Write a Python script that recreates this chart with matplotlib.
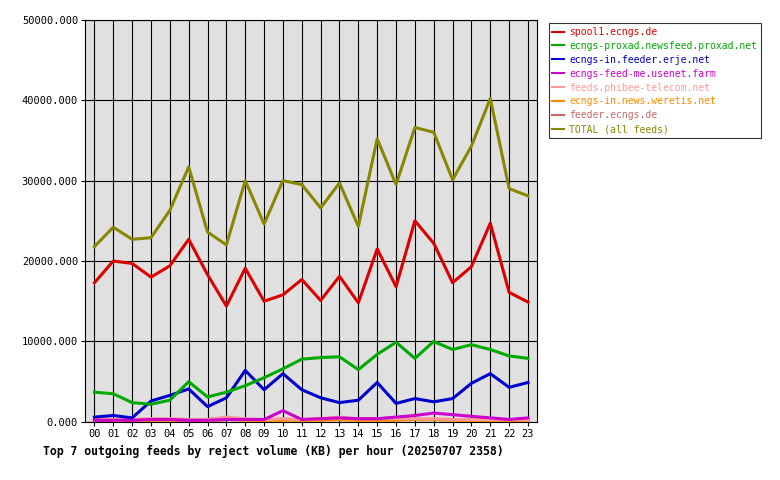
import matplotlib
matplotlib.use("Agg")
import matplotlib.pyplot as plt

hours = ["%02d" % h for h in range(24)]

spool1 = [17300, 20000, 19700, 18000, 19400, 22700, 18300, 14400, 19100, 15000, 15800, 17700,
          15100, 18100, 14800, 21500, 16800, 25000, 22200, 17300, 19300, 24700, 16100, 14900]
proxad = [3700, 3500, 2400, 2200, 2700, 5000, 3100, 3700, 4500, 5500, 6600, 7800,
          8000, 8100, 6500, 8400, 9900, 7900, 10000, 9000, 9600, 9000, 8200, 7900]
erje = [600, 800, 500, 2600, 3300, 4100, 1900, 3000, 6400, 4000, 6000, 4000,
        3000, 2400, 2700, 4900, 2300, 2900, 2500, 2900, 4800, 6000, 4300, 4900]
usenet_farm = [200, 200, 200, 300, 300, 200, 200, 300, 300, 300, 1400, 300,
               400, 500, 400, 400, 600, 800, 1100, 900, 700, 500, 300, 500]
phibee = [300, 300, 300, 400, 400, 300, 300, 600, 400, 300, 400, 300,
          400, 600, 400, 400, 400, 400, 400, 300, 300, 300, 300, 300]
weretis = [100, 100, 100, 200, 200, 100, 100, 300, 200, 100, 200, 200,
           200, 300, 200, 200, 200, 300, 300, 200, 200, 200, 200, 200]
feeder = [200, 200, 200, 300, 300, 200, 300, 500, 300, 200, 300, 300,
          300, 500, 300, 300, 300, 300, 300, 300, 200, 200, 200, 200]
total = [21800, 24200, 22700, 22900, 26300, 31700, 23600, 22000, 30000, 24600, 30000, 29500,
         26600, 29700, 24300, 35200, 29500, 36600, 36000, 30100, 34300, 40200, 29000, 28100]

series = [
    ("spool1.ecngs.de", spool1, "#dd0000"),
    ("ecngs-proxad.newsfeed.proxad.net", proxad, "#00aa00"),
    ("ecngs-in.feeder.erje.net", erje, "#0000cc"),
    ("ecngs-feed-me.usenet.farm", usenet_farm, "#cc00cc"),
    ("feeds.phibee-telecom.net", phibee, "#ff9999"),
    ("ecngs-in.news.weretis.net", weretis, "#ff8800"),
    ("feeder.ecngs.de", feeder, "#cc6666"),
    ("TOTAL (all feeds)", total, "#888800"),
]

plt.rcParams["font.family"] = "DejaVu Sans Mono"
fig = plt.figure(figsize=(7.8, 4.8), dpi=100)
ax = fig.add_axes([0.109, 0.121, 0.58, 0.838])
ax.set_facecolor("#e0e0e0")
x = list(range(24))
for name, vals, col in series[::-1]:
    ax.plot(x, vals, color=col, lw=2.2, label=name, zorder=3)
ax.set_xlim(-0.5, 23.5)
ax.set_ylim(0, 50000)
ax.set_xticks(x)
ax.set_xticklabels(hours, fontsize=7.5)
ax.set_yticks(range(0, 50001, 10000))
ax.set_yticklabels(["%d.000" % v for v in range(0, 50001, 10000)], fontsize=7.5)
ax.grid(True, color="black", lw=0.8, zorder=1)
ax.tick_params(length=3, pad=2)
handles, labels = ax.get_legend_handles_labels()
leg = fig.legend(handles[::-1], labels[::-1], loc="upper left", bbox_to_anchor=(0.697, 0.962),
                 fontsize=7, frameon=True, fancybox=False, edgecolor="black",
                 handlelength=1.2, borderpad=0.4, labelspacing=0.4, handletextpad=0.5)
leg.get_frame().set_linewidth(0.8)
for t, (_, _, col) in zip(leg.get_texts(), series):
    t.set_color(col)
for h in leg.get_lines():
    h.set_linewidth(1.5)
fig.text(0.055, 0.052, "Top 7 outgoing feeds by reject volume (KB) per hour (20250707 2358)",
         fontsize=8.3, fontweight="bold", ha="left")
fig.savefig("out.png")
